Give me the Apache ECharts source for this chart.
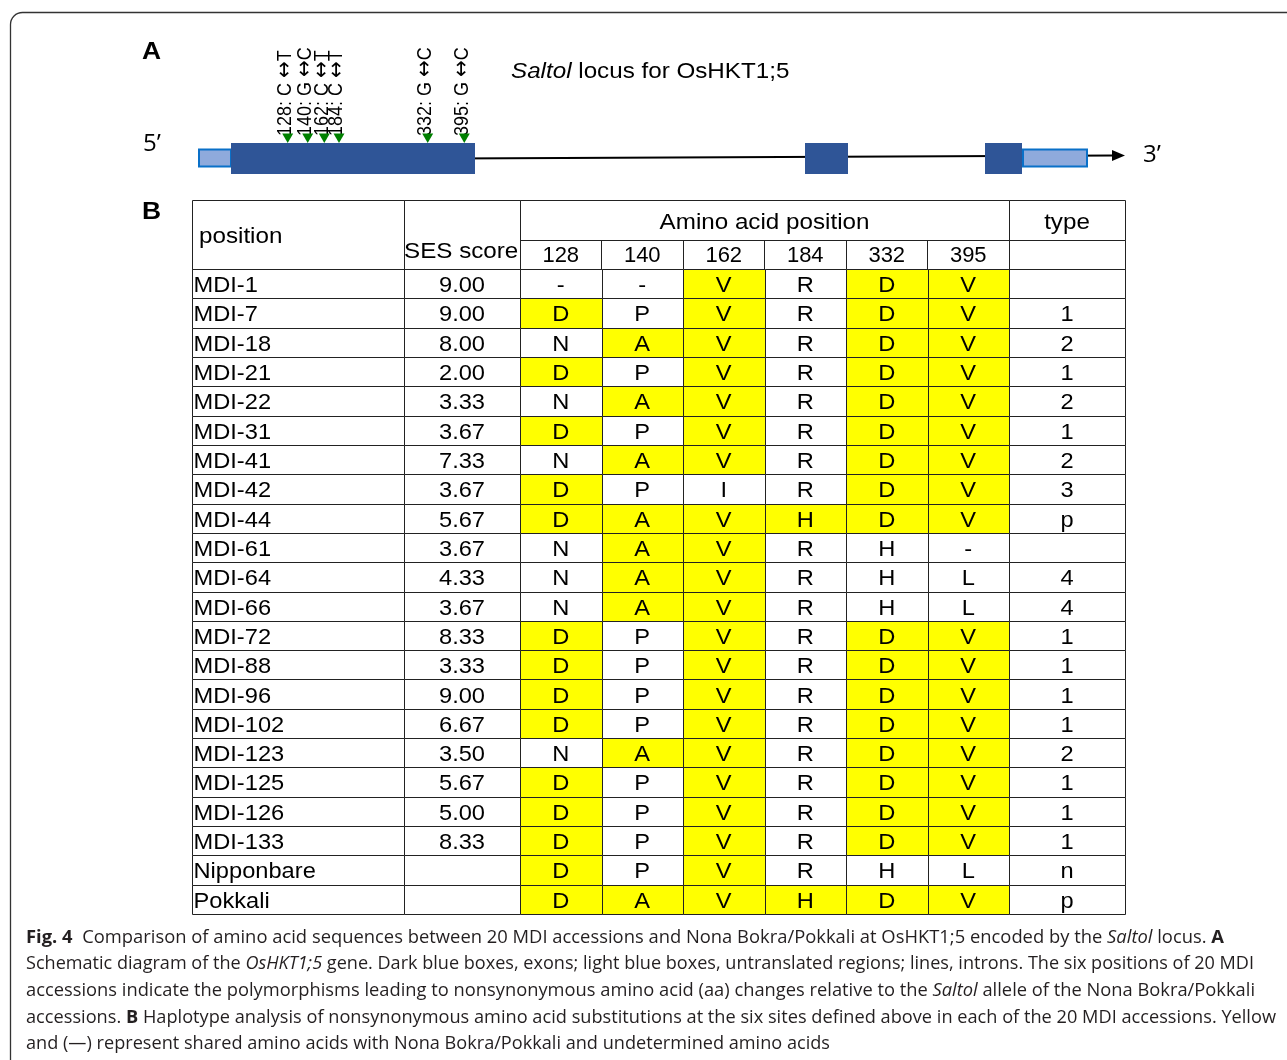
<!DOCTYPE html>
<html><head><meta charset="utf-8">
<script src="https://cdn.jsdelivr.net/npm/echarts@6/dist/echarts.min.js"></script>
<style>html,body{margin:0;padding:0;background:#fff}#c{width:1287px;height:1060px}</style>
</head><body><div id="c"></div>
<script>
// ---------------- DATA ----------------
const accessions = ['MDI-1','MDI-7','MDI-18','MDI-21','MDI-22','MDI-31','MDI-41','MDI-42','MDI-44','MDI-61','MDI-64','MDI-66','MDI-72','MDI-88','MDI-96','MDI-102','MDI-123','MDI-125','MDI-126','MDI-133','Nipponbare','Pokkali'];
const sesScores = ['9.00','9.00','8.00','2.00','3.33','3.67','7.33','3.67','5.67','3.67','4.33','3.67','8.33','3.33','9.00','6.67','3.50','5.67','5.00','8.33','',''];
const aaPositions = ['128','140','162','184','332','395'];
const aa128 = ['-','D','N','D','N','D','N','D','D','N','N','N','D','D','D','D','N','D','D','D','D','D'];
const aa140 = ['-','P','A','P','A','P','A','P','A','A','A','A','P','P','P','P','A','P','P','P','P','A'];
const aa162 = ['V','V','V','V','V','V','V','I','V','V','V','V','V','V','V','V','V','V','V','V','V','V'];
const aa184 = ['R','R','R','R','R','R','R','R','H','R','R','R','R','R','R','R','R','R','R','R','R','H'];
const aa332 = ['D','D','D','D','D','D','D','D','D','H','H','H','D','D','D','D','D','D','D','D','H','D'];
const aa395 = ['V','V','V','V','V','V','V','V','V','-','L','L','V','V','V','V','V','V','V','V','L','V'];
const haploTypes = ['','1','2','1','2','1','2','3','p','','4','4','1','1','1','1','2','1','1','1','n','p'];
const referenceAccession = 'Pokkali';

// gene schematic (schematic units along the locus)
const geneExtent = [0, 927];
const geneFeatureKinds = ['utr','exon','exon','exon','utr'];
const geneFeatureStart = [0, 33, 607, 787, 824];
const geneFeatureEnd   = [33, 277, 650, 824, 889];
const snpPositions = [89.7, 109.7, 126.3, 141, 229.7, 266.3];
const snpSites = ['128','140','162','184','332','395'];
const snpFrom = ['C','G','C','C','G','G'];
const snpTo = ['T','C','T','T','C','C'];

// ---------------- STYLE ----------------
const TFONT = '"Liberation Sans", Arial, sans-serif';
const SX = 1.1;
const YELLOW = '#FFFF00';
const LINE = '#222';
const aaCols = [aa128, aa140, aa162, aa184, aa332, aa395];
const refIdx = accessions.indexOf(referenceAccession);

const chart = echarts.init(document.getElementById('c'), null, {renderer:'canvas'});

function snap(v) { return Math.round(Math.round(v * 100) / 100) + 0.5; }
function cellBox(api) {
  const c = api.coord([api.value(0), api.value(1)]);
  const s = api.size([1, 1]);
  return {x0: snap(c[0] - s[0] / 2), x1: snap(c[0] + s[0] / 2),
          y0: snap(c[1] - s[1] / 2), y1: snap(c[1] + s[1] / 2), cx: c[0], cy: c[1]};
}
function cellGroup(b, fill, text, align) {
  return {type:'group', children:[
    {type:'rect', shape:{x:b.x0, y:b.y0, width:b.x1-b.x0, height:b.y1-b.y0}, style:{fill, stroke:LINE, lineWidth:1}},
    {type:'text', x: align === 'left' ? b.x0 + 1 : b.cx, y: b.cy + 2.5, scaleX: SX,
     style:{text, align, verticalAlign:'middle', font:'21.5px ' + TFONT, fill:'#000'}}
  ]};
}

// grids
const rowsTop = 269, rowsH = 645;
const grids = [
  {left:198, width:927, top:140, height:36},            // 0 gene
  {left:192, width:212, top:rowsTop, height:rowsH},     // 1 names
  {left:404, width:116, top:rowsTop, height:rowsH},     // 2 SES
  {left:520, width:489, top:rowsTop, height:rowsH},     // 3 AA
  {left:1009, width:116, top:rowsTop, height:rowsH}     // 4 type
];

const xAxes = [
  {gridIndex:0, type:'value', min:geneExtent[0], max:geneExtent[1], show:false},
  {gridIndex:1, type:'category', data:['position'], show:false},
  {gridIndex:2, type:'category', data:['SES score'], show:false},
  {gridIndex:3, type:'category', data:aaPositions, position:'top',
    axisLine:{show:false}, splitLine:{show:false},
    axisTick:{show:true, length:29, lineStyle:{color:LINE, width:1}},
    axisLabel:{fontSize:22, color:'#000', fontFamily:TFONT, margin:2}},
  {gridIndex:4, type:'category', data:['type'], show:false}
];
const yAxes = [
  {gridIndex:0, type:'value', min:-1, max:1, show:false},
  {gridIndex:1, type:'category', data:accessions, inverse:true, show:false},
  {gridIndex:2, type:'category', data:accessions, inverse:true, show:false},
  {gridIndex:3, type:'category', data:accessions, inverse:true, show:false},
  {gridIndex:4, type:'category', data:accessions, inverse:true, show:false}
];

const aaData = [];
accessions.forEach((a, i) => aaCols.forEach((col, j) => aaData.push([j, i])));

const series = [
  // backbone (introns) + arrow
  {type:'custom', xAxisIndex:0, yAxisIndex:0, silent:true, z:1,
   data:[[geneExtent[0], geneExtent[1]]],
   renderItem(params, api) {
     const pS = api.coord([geneFeatureStart[1], 0]);
     const pE = api.coord([api.value(1), 0]);
     const y1 = pS[1] + 1.5, y2 = pS[1] - 2.5;
     return {type:'group', children:[
       {type:'line', shape:{x1:pS[0], y1:y1, x2:pE[0]-12, y2:y2}, style:{stroke:'#000', lineWidth:2}},
       {type:'polygon', shape:{points:[[pE[0]-13, y2-5.5],[pE[0], y2],[pE[0]-13, y2+5.5]]}, style:{fill:'#000'}}
     ]};
   }},
  // exons / UTRs
  {type:'custom', xAxisIndex:0, yAxisIndex:0, silent:true, z:2,
   data: geneFeatureStart.map((s, i) => [s, geneFeatureEnd[i]]),
   renderItem(params, api) {
     const kind = geneFeatureKinds[params.dataIndex];
     const p0 = api.coord([api.value(0), 0]);
     const p1 = api.coord([api.value(1), 0]);
     if (kind === 'exon') {
       return {type:'rect', shape:{x:p0[0], y:p0[1]-15, width:p1[0]-p0[0], height:31}, style:{fill:'#2F5597'}};
     }
     return {type:'rect', shape:{x:p0[0]+1, y:p0[1]-8.5, width:p1[0]-p0[0]-1, height:17}, style:{fill:'#8FAADC', stroke:'#0A70C8', lineWidth:2}};
   }},
  // SNP markers + labels
  {type:'custom', xAxisIndex:0, yAxisIndex:0, silent:true, z:3,
   data: snpPositions.map(p => [p, 0]),
   renderItem(params, api) {
     const k = params.dataIndex;
     const p = api.coord([api.value(0), 0]);
     const top = p[1] - 15;
     return {type:'group', children:[
       {type:'text', x:p[0]-2, y:top-7, rotation:Math.PI/2, scaleY:SX,
        style:{text: snpSites[k] + ': ' + snpFrom[k] + ' {a|\u2194}' + snpTo[k],
          align:'left', verticalAlign:'middle', font:'18px ' + TFONT, fill:'#000',
          rich:{a:{fontFamily:'"DejaVu Sans"', fontSize:20, fill:'#000'}}}},
       {type:'polygon', shape:{points:[[p[0]-5.5, top-9.5],[p[0]+5.5, top-9.5],[p[0], top]]}, style:{fill:'#008000'}}
     ]};
   }},
  // names column
  {type:'custom', xAxisIndex:1, yAxisIndex:1, silent:true,
   data: accessions.map((a, i) => [0, i]),
   renderItem(params, api) { return cellGroup(cellBox(api), '#fff', accessions[params.dataIndex], 'left'); }},
  // SES column
  {type:'custom', xAxisIndex:2, yAxisIndex:2, silent:true,
   data: sesScores.map((v, i) => [0, i]),
   renderItem(params, api) { return cellGroup(cellBox(api), '#fff', sesScores[params.dataIndex], 'center'); }},
  // amino acid grid
  {type:'custom', xAxisIndex:3, yAxisIndex:3, silent:true,
   data: aaData,
   renderItem(params, api) {
     const j = api.value(0), i = api.value(1);
     const v = aaCols[j][i];
     const shared = v === aaCols[j][refIdx];
     return cellGroup(cellBox(api), shared ? YELLOW : '#fff', v, 'center');
   }},
  // type column
  {type:'custom', xAxisIndex:4, yAxisIndex:4, silent:true,
   data: haploTypes.map((v, i) => [0, i]),
   renderItem(params, api) { return cellGroup(cellBox(api), '#fff', haploTypes[params.dataIndex], 'center'); }}
];

// ---------------- caption (measured to fit its lines) ----------------
const CFONT = '"Open Sans", "Noto Sans", sans-serif';
const CSIZE = 17.5;
const captionLines = [
  [['b','Fig. 4'],['n','  Comparison of amino acid sequences between 20 MDI accessions and Nona Bokra/Pokkali at OsHKT1;5 encoded by the '],['i','Saltol'],['n',' locus. '],['b','A']],
  [['n','Schematic diagram of the '],['i','OsHKT1;5'],['n',' gene. Dark blue boxes, exons; light blue boxes, untranslated regions; lines, introns. The six positions of 20 MDI']],
  [['n','accessions indicate the polymorphisms leading to nonsynonymous amino acid (aa) changes relative to the '],['i','Saltol'],['n',' allele of the Nona Bokra/Pokkali']],
  [['n','accessions. '],['b','B'],['n',' Haplotype analysis of nonsynonymous amino acid substitutions at the six sites defined above in each of the 20 MDI accessions. Yellow']],
  [['n','and (\u2014) represent shared amino acids with Nona Bokra/Pokkali and undetermined amino acids']]
];
const captionRight = [1224, 1254, 1255, 1276, 830];
const captionY = [938, 964, 991, 1018, 1044];
const mctx = document.createElement('canvas').getContext('2d');
function segFont(k) {
  return (k === 'i' ? 'italic ' : 'normal ') + (k === 'b' ? 'bold ' : 'normal ') + CSIZE + 'px ' + CFONT;
}
const captionGraphics = captionLines.map((segs, li) => {
  let w = 0;
  segs.forEach(([k, t]) => { mctx.font = segFont(k); w += mctx.measureText(t).width; });
  const sc = (captionRight[li] - 26) / w;
  const text = segs.map(([k, t]) => k === 'n' ? t : '{' + k + '|' + t + '}').join('');
  return {type:'text', x:26, y:captionY[li], scaleX:sc,
    style:{text, x:0, y:0, align:'left', verticalAlign:'middle', fill:'#231F20',
      font: 'normal ' + CSIZE + 'px ' + CFONT,
      rich:{
        b:{fontWeight:'bold', fontSize:CSIZE, fontFamily:CFONT, fill:'#231F20'},
        i:{fontStyle:'italic', fontSize:CSIZE, fontFamily:CFONT, fill:'#231F20'}
      }}};
});

function hText(text, x, y, align, size) {
  return {type:'text', x, y, scaleX:SX, z:10,
    style:{text, align, verticalAlign:'middle', font:(size||22) + 'px ' + TFONT, fill:'#000'}};
}
function hRect(x, y, w, h) {
  return {type:'rect', z:5, shape:{x:x+0.5, y:y+0.5, width:w, height:h}, style:{fill:'none', stroke:LINE, lineWidth:1}};
}

const graphic = [
  {type:'rect', z:0, shape:{x:10.5, y:12.5, width:1320, height:1100, r:12}, style:{fill:'none', stroke:'#333', lineWidth:1.3}},
  // panel labels
  {type:'text', x:142, y:52, scaleX:SX, style:{text:'A', align:'left', verticalAlign:'middle', font:'bold 24px ' + TFONT, fill:'#000'}},
  {type:'text', x:142, y:212, scaleX:SX, style:{text:'B', align:'left', verticalAlign:'middle', font:'bold 24px ' + TFONT, fill:'#000'}},
  {type:'text', x:511, y:72, scaleX:SX, style:{text:'{i|Saltol} locus for OsHKT1;5', align:'left', verticalAlign:'middle', font:'22px ' + TFONT, fill:'#000',
     rich:{i:{fontStyle:'italic', fontSize:22, fontFamily:TFONT, fill:'#000'}}}},
  {type:'text', x:143, y:144, style:{text:'5\u2019', align:'left', verticalAlign:'middle', font:'24px "Open Sans", sans-serif', fill:'#000'}},
  {type:'text', x:1143, y:155, style:{text:'3\u2019', align:'left', verticalAlign:'middle', font:'24px "Open Sans", sans-serif', fill:'#000'}},
  // table header
  hRect(192, 200, 212, 69),
  hRect(404, 200, 116, 69),
  hRect(520, 200, 489, 40),
  hRect(1009, 200, 116, 40),
  hRect(1009, 240, 116, 29),
  hText('position', 199, 237, 'left', 22),
  hText('SES score', 404, 252, 'left', 22),
  hText('Amino acid position', 764.5, 223, 'center', 22),
  hText('type', 1067, 223, 'center', 22)
].concat(captionGraphics);

chart.setOption({
  animation:false,
  grid: grids.map(g => Object.assign({containLabel:false}, g)),
  xAxis: xAxes,
  yAxis: yAxes,
  series,
  graphic
});
</script>
</body></html>
